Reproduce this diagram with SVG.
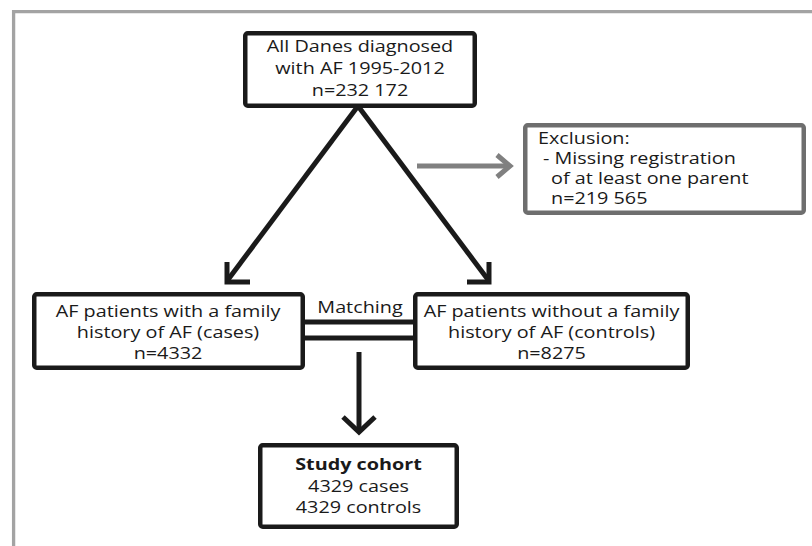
<svg xmlns="http://www.w3.org/2000/svg" width="812" height="546" viewBox="0 0 812 546">
<style>
.frame{fill:none;stroke:#a3a3a3;stroke-width:3.3}
.box{fill:#fff;stroke:#1a1a1a;stroke-width:4.5}
.gbox{fill:#fff;stroke:#6e6e6e;stroke-width:4.5}
.t{font-family:"Open Sans","Noto Sans","DejaVu Sans",sans-serif;font-size:16.5px;fill:#1a1a1a;text-anchor:middle}
.l{text-anchor:start}
.b{font-weight:bold}
.c{fill:none;stroke:#1a1a1a;stroke-width:5}
.g{fill:none;stroke:#808080;stroke-width:5}
</style>
<rect width="812" height="546" fill="#fff"/>
<path class="frame" d="M812 11.6H13.6V546"/>
<g id="connectors">
<line class="c" x1="358" y1="106" x2="227" y2="281"/>
<polyline class="c" points="227,262 227,282 250,282"/>
<line class="c" x1="358" y1="106" x2="489" y2="281"/>
<polyline class="c" points="489,262 489,282 467,282"/>
<line class="g" x1="417" y1="166" x2="510" y2="166"/>
<polyline class="g" points="497,155 510,166 497,177"/>
<line class="c" x1="304" y1="322" x2="414" y2="322"/>
<line class="c" x1="304" y1="338" x2="414" y2="338"/>
<line class="c" x1="359" y1="352" x2="359" y2="430"/>
<polyline class="c" points="343,417 359,432 375,417"/>
</g>
<g id="all-danes">
<rect class="box" x="245.25" y="33.25" width="229.5" height="72.5" rx="2.5"/>
<text class="t" transform="translate(360 52) scale(1.2 1)">All Danes diagnosed</text>
<text class="t" transform="translate(360 74) scale(1.2 1)">with AF 1995-2012</text>
<text class="t" transform="translate(360 96) scale(1.2 1)">n=232 172</text>
</g>
<g id="exclusion">
<rect class="gbox" x="525.25" y="125.25" width="278.5" height="87.5" rx="2.5"/>
<text class="t l" transform="translate(538 144) scale(1.2 1)">Exclusion:</text>
<text class="t l" transform="translate(543 164) scale(1.2 1)">- Missing registration</text>
<text class="t l" transform="translate(551 184) scale(1.2 1)">of at least one parent</text>
<text class="t l" transform="translate(551 204) scale(1.2 1)">n=219 565</text>
</g>
<g id="cases">
<rect class="box" x="34.25" y="294.25" width="268.5" height="73.5" rx="2.5"/>
<text class="t" transform="translate(168 317) scale(1.2 1)">AF patients with a family</text>
<text class="t" transform="translate(168 338) scale(1.2 1)">history of AF (cases)</text>
<text class="t" transform="translate(168 359) scale(1.2 1)">n=4332</text>
</g>
<g id="matching">
<text class="t" transform="translate(360 313) scale(1.2 1)">Matching</text>
</g>
<g id="controls">
<rect class="box" x="415.25" y="294.25" width="272.5" height="73.5" rx="2.5"/>
<text class="t" transform="translate(551.5 317) scale(1.2 1)">AF patients without a family</text>
<text class="t" transform="translate(551.5 338) scale(1.2 1)">history of AF (controls)</text>
<text class="t" transform="translate(551.5 359) scale(1.2 1)">n=8275</text>
</g>
<g id="study-cohort">
<rect class="box" x="260.25" y="445.25" width="196.5" height="81.5" rx="2.5"/>
<text class="t b" transform="translate(358.5 470) scale(1.2 1)">Study cohort</text>
<text class="t" transform="translate(358.5 492) scale(1.2 1)">4329 cases</text>
<text class="t" transform="translate(358.5 513) scale(1.2 1)">4329 controls</text>
</g>
</svg>
